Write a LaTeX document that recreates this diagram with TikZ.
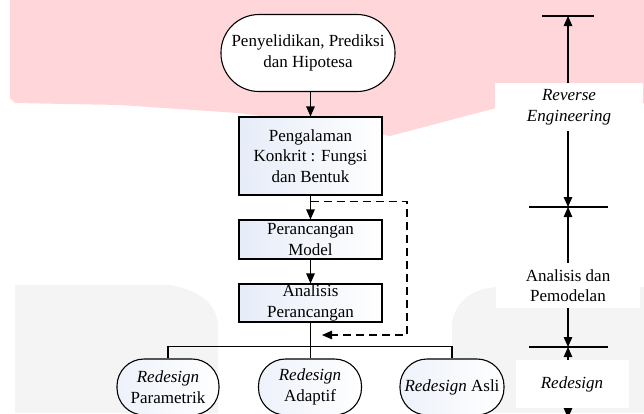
\documentclass[tikz,border=0pt]{standalone}
\usepackage{fontspec}
\setmainfont{Liberation Serif}
\usetikzlibrary{arrows.meta}
\definecolor{wmpink}{RGB}{255,214,217}
\definecolor{wmgrey}{RGB}{244,244,244}
\definecolor{boxblue}{RGB}{230,236,248}
\tikzset{
  txt/.style={font=\fontsize{17}{20.5}\selectfont, align=center, inner sep=0pt},
  procbox/.style={txt, draw, line width=1.1pt, left color=boxblue, right color=white,
    minimum width=143pt},
  termtop/.style={txt, draw, line width=1.1pt, fill=white, rounded corners=38pt,
    minimum width=174pt, minimum height=77pt},
  termbot/.style={txt, draw, line width=1.1pt, left color=boxblue!70, right color=white,
    rounded corners=27pt, minimum height=56pt},
  lbl/.style={txt, fill=white},
  arr/.style={line width=1.1pt, -{Triangle[length=10pt,width=8.5pt]}},
  plain/.style={line width=1.1pt},
  dasharr/.style={line width=1.1pt, dash pattern=on 8pt off 5pt, -{Triangle[length=10pt,width=8.5pt]}},
}
\begin{document}
\begin{tikzpicture}[x=1pt,y=-1pt]
\useasboundingbox (0,0) rectangle (644,413);
% watermark background
\fill[wmpink] (10,0) -- (644,0) -- (644,103) -- (500,107) -- (390,136) -- (330,125)
  -- (238,113) -- (120,105) -- (15,103) -- (10,98) -- cycle;
\fill[wmgrey] (15,285) -- (170,285) .. controls (200,290) and (218,305) .. (218,327)
  -- (218,413) -- (15,413) -- cycle;
\fill[wmgrey] (452,413) -- (452,327) .. controls (452,305) and (470,287) .. (500,287)
  -- (644,287) -- (644,413) -- cycle;

% main flow
\node[termtop] (top) at (308,53) {Penyelidikan, Prediksi\\dan Hipotesa};
\node[procbox, minimum height=78pt] (b1) at (310.5,156) {Pengalaman\\Konkrit : Fungsi\\dan Bentuk};
\node[procbox, minimum height=39pt] (b2) at (310.5,239.5) {Perancangan\\Model};
\node[procbox, minimum height=38pt] (b3) at (310.5,303) {Analisis\\Perancangan};
\node[termbot, minimum width=102pt] (r1) at (168,387) {\textit{Redesign}\\Parametrik};
\node[termbot, minimum width=103pt] (r2) at (310,387) {\textit{Redesign}\\Adaptif};
\node[termbot, minimum width=104pt] (r3) at (452,387) {\textit{Redesign} Asli};

\draw[arr] (top.south -| b1.north) -- (b1.north);
\draw[arr] (b1.south) -- (b2.north);
\draw[arr] (b2.south) -- (b3.north);
\draw[plain] (b3.south) -- (b3.south |- r2.north);
\draw[plain] (r1.north) -- ++(0,-12) -| (r3.north);

\coordinate (dA) at ([yshift=-6pt]b1.south);
\coordinate (dC) at (407,335);
\coordinate (dD) at (322,335);
\draw[dasharr] (dA) -| (dC) -- (dD);

% right column
\coordinate (t1) at (568,16);
\coordinate (t1l) at (542,16);
\coordinate (t1r) at (594,16);
\coordinate (m1) at (568,207);
\coordinate (m1l) at (529,207);
\coordinate (m1r) at (608,207);
\coordinate (m2) at (568,347);
\coordinate (m2l) at (529,347);
\coordinate (m2r) at (608,347);
\coordinate (m3) at (568,418);
\draw[plain] (t1l) -- (t1r);
\draw[plain] (m1l) -- (m1r);
\draw[plain] (m2l) -- (m2r);

\node[lbl, minimum width=148pt, minimum height=48pt] (RE) at (569,107) {\textit{Reverse}\\\textit{Engineering}};
\node[lbl, minimum width=144pt, minimum height=45pt] (AD) at (568,285.5) {Analisis dan\\Pemodelan};
\node[lbl, minimum width=113pt, minimum height=48pt] (RD) at (572,384) {\textit{Redesign}};

\draw[arr] (RE.north -| t1) -- (t1);
\draw[arr] (RE.south -| t1) -- (m1);
\draw[arr] (AD.north) -- (m1);
\draw[arr] (AD.south) -- (m2);
\draw[arr] (RD.north -| m2) -- (m2);
\draw[arr] (RD.south -| m2) -- (m3);
\end{tikzpicture}
\end{document}
